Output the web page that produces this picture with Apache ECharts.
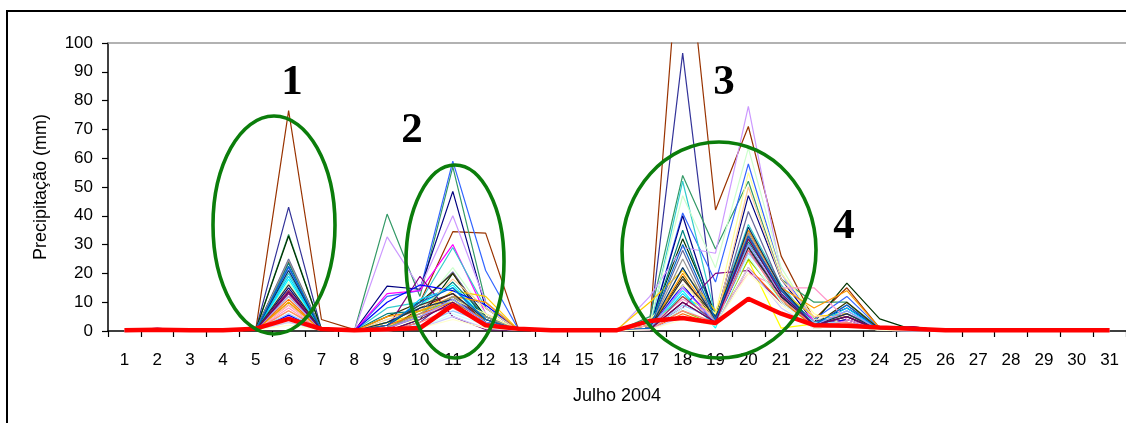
<!DOCTYPE html>
<html>
<head>
<meta charset="utf-8">
<title>Precipitação diária - Julho 2004</title>
<script src="https://cdn.jsdelivr.net/npm/echarts@6/dist/echarts.min.js"></script>
<style>
  html, body { margin: 0; padding: 0; background: #fff; }
  #chart { width: 1126px; height: 423px; }
</style>
</head>
<body>
<div id="chart"></div>
<script>
// Days of July 2004
const days = ['1','2','3','4','5','6','7','8','9','10','11','12','13','14','15','16','17','18','19','20','21','22','23','24','25','26','27','28','29','30','31'];

// Daily rainfall (mm) per rain gauge, days 1..31
const p01 = [0,0,0,0,0.5, 76.5,4,0.5,2,10, 34.5,34,0.5,0,0, 0,2,150,42,71, 26,4,15,1,1.5, 0,0,0,0,0,0];
const p02 = [0,0,0,0,0.5, 43,0.5,0,0,3, 12,3,0.3,0,0, 0,1,96.5,3,35, 15,2,6,1,0, 0,0,0,0,0,0];
const p03 = [0,0,0,0,0.5, 33.5,0.5,0,40.6,12, 57,10,0.5,0,0, 0,5,54,28.5,52, 18,10,10,1,0, 0,0,0,0,0,0];
const p04 = [0,0,0,0,0.5, 33,0.5,0,0,4, 20,5,0.3,0,0, 0,2,32,6,33, 14,3,16.6,4.2,0.5, 0,0,0,0,0,0];
const p05 = [0,0,0,0,0.5, 22,0.5,0,12,14, 59,21,0.5,0,0, 0,1,41,17,58, 20,4,12,1,0, 0,0,0,0,0,0];
const p06 = [0,0,0,0,0.3, 15,0.3,0,15.6,14.5, 48.5,8,0.3,0,0, 0,1,40,4,47, 18,3,8,1,0, 0,0,0,0,0,0];
const p07 = [0,0,0,0,0.3, 5,0.3,0,32.7,15, 40,10,0.5,0,0, 0,12,29,27,78, 20,3,5,0.5,0, 0,0,0,0,0,0];
const p08 = [0,0,0,0,0.3, 9,0.3,0,13,14, 30,6,0.3,0,0, 0,1,15,4,30, 12,4,3,0.5,0, 0,0,0,0,0,0];
const p09 = [0,0,0,0,0.5, 20,0.5,0,8,10, 29,8,0.3,0,0, 0,1,52,5,37, 16,2,7,0.5,0, 0,0,0,0,0,0];
const p10 = [0,0,0,0,0.3, 17,0.3,0,4,8, 22,6,0.3,0,0, 0,3,47,22,63.5, 22,4,5,0.5,0, 0,0,0,0,0,0];
const p11 = [0,0,0,0,0.5, 25,0.5,0,3,9, 20.5,4,0.3,0,0, 0,1,28,3,41.5, 15,2,9,0.5,0, 0,0,0,0,0,0];
const p12 = [0,0,0,0,0.5, 24,0.5,0,5,10, 20,3,0.3,0,0, 0,1,19,3,30, 12,2,10,0.5,0, 0,0,0,0,0,0];
const p13 = [0,0,0,0,0.3, 12,0.5,0,3,6, 14,12,0.3,0,0, 0.5,10,21,7,32, 14,5,6,0.5,0, 0,0,0,0,0,0];
const p14 = [0,0,0,0,0.3, 7,1,0,3,5, 12,5,0.3,0,0, 0,2,12,6,24.5, 1,2.5,3,0.5,0, 0,0,0,0,0,0];
const p15 = [0,0,0,0,0.3, 18,0.3,0,2,9, 16,4,0.3,0,0, 0,1,14,1,30, 10,2,5,0.3,0, 0,0,0,0,0,0];
const p16 = [0,1,0,0,0.3, 13,0.3,0,1,19, 5,0.5,0.3,0,0, 0,1,8,20,21, 10,2,3,0.5,1.5, 0,0,0,0,0,0];
const p17 = [0,0,0,0,0.3, 14,0.3,0,0,8, 13,3,0.3,0,0, 0,0.5,10,3,29, 12,2,4,0.3,0, 0,0,0,0,0,0];
const p18 = [0,0,0,0,0.5, 23.5,0.5,0,6,7, 17,5,0.3,0,0, 0,1,35,4,31, 14,3,6,0.5,0, 0,0,0,0,0,0];
const p19 = [0,0,0,0,0.3, 5.5,0.3,0,10,16, 14,9,0.3,0,0, 0,1,16,2,28, 12,2,4,0.3,0, 0,0,0,0,0,0];
const p20 = [0,0,0,0,0.3, 19,0.3,0,1,11, 15,3,0.3,0,0, 0,0.5,13,2,33, 13,2,8,0.3,0, 0,0,0,0,0,0];
const p21 = [0,0,0,0,0.3, 3,0.3,0,2,4, 11,6,0.3,0,0, 0,4,16,6,55, 20,6,2,0.3,0, 0,0,0,0,0,0];
const p22 = [0,0,0,0,0.3, 6,0.3,0,0.5,2, 7,3,0.3,0,0, 0,0.5,9,4,27, 13,3,3,0.3,0, 0,0,0,0,0,0];
const p23 = [0,0,0,0,0.3, 8,0.3,0,2,6, 9,4,0.3,0,0, 0,2,11,5,20, 15,15,4,0.3,0, 0,0,0,0,0,0];
const p24 = [0,0,0,0,0.3, 9,0.3,0,4,7, 18,8,0.3,0,0, 0,1,18,3,50, 18,5,5,0.3,0, 0,0,0,0,0,0];
const p25 = [0,0,0,0,0.3, 10,0.3,0,1,7, 10,4,0.3,0,0, 0,1,7,2,25, 11,1,2,0.3,0, 0,0,0,0,0,0];
const p26 = [0,0,0,0,0.3, 10,0.3,0,5,7, 12,10,0.3,0,0, 0,1,20,4,35, 15,8,14,1,0, 0,0,0,0,0,0];
const p27 = [0,0,0,0,0.3, 11,0.3,0,2,6, 10,4,0.3,0,0, 0,0.5,6,2,22, 10,2,6,0.3,0, 0,0,0,0,0,0];
const p28 = [0,0,0,0,0.3, 24.5,0.3,0,1,6, 12,5,0.3,0,0, 0,1,25,3,34, 14,2,5,0.3,0, 0,0,0,0,0,0];
const p29 = [0,0,0,0,0.3, 21,0.3,0,3,8, 11,3,0.3,0,0, 0,1,22,4,36, 15,2,6,0.3,0, 0,0,0,0,0,0];
const p30 = [0,0,0,0,0.3, 14,0.3,0,1,5, 9,2,0.3,0,0, 0,0.5,12,3,33, 14,2,5,0.3,0, 0,0,0,0,0,0];
const p31 = [0,0,0,0,0.3, 16,0.3,0,2,9, 13,4,0.3,0,0, 0,1,18,5,29, 12,2,5,0.3,0, 0,0,0,0,0,0];
const p32 = [0,0,0,0,0.3, 4,0.3,0,0,1, 6,2,0.3,0,0, 0,0.5,8,2,26, 10,1,2,0.3,0, 0,0,0,0,0,0];
const p33 = [0,0,0,0,0.3, 12,0.3,0,1,5, 11,3,0.3,0,0, 0,1,15,3,30, 13,2,7,0.3,0, 0,0,0,0,0,0];
const p34 = [0,0,0,0,0.3, 7,0.3,0,0,3, 8,2,0.3,0,0, 0,0.5,7,3,28, 11,2,3,0.3,0, 0,0,0,0,0,0];
const p35 = [0,0,0,0,0.3, 22.5,0.3,0,2,10, 15,4,0.3,0,0, 0,1,30,4,33, 14,2,9,0.3,0, 0,0,0,0,0,0];
const p36 = [0,0,0,0,0.3, 13.5,0.3,0,0,4, 10,2,0.3,0,0, 0,0.5,10,3,32, 13,2,5,0.3,0, 0,0,0,0,0,0];
const p37 = [0,0,0,0,0.3, 3,0.3,0,0,1, 5,1,0.3,0,0, 0,0.5,5,2,22, 8,1,2,0.3,0, 0,0,0,0,0,0];
const p38 = [0,0,0,0,0.3, 2,0.3,0,0,1, 4,1,0.3,0,0, 0,0.5,4,2,20, 9,1,2,0.3,0, 0,0,0,0,0,0];

// Areal mean over all gauges
const media = [0.3,0.4,0.3,0.3,0.8, 4.2,0.7,0.3,0.6,1.0, 9,2,0.8,0.3,0.3, 0.3,3.5,4.5,2.8,11.2, 6,2,1.8,1.2,0.8, 0.3,0.3,0.3,0.3,0.3,0.3];

// Y axis range (mm)
const yMin = 0, yMax = 100, yStep = 10;

// Rain events marked on the chart
const eventLabels = ['1', '2', '3', '4'];

const gauges = [p01,p02,p03,p04,p05,p06,p07,p08,p09,p10,p11,p12,p13,p14,p15,p16,p17,p18,p19,p20,
                p21,p22,p23,p24,p25,p26,p27,p28,p29,p30,p31,p32,p33,p34,p35,p36,p37,p38];

const gaugeColors = ['#993300','#333399','#339966','#003300','#3366FF','#000080','#CC99FF','#FF00FF',
  '#33CCCC','#CCFFCC','#666699','#333300','#FFCC00','#FFFF00','#00FFFF','#800080','#800000','#008080',
  '#0000FF','#00CCFF','#FFFF99','#99CCFF','#FF99CC','#FFCC99','#99CC00','#FF9900','#FF6600','#969696',
  '#003366','#993366','#333333','#CCFFFF','#9999FF','#FF8080','#0066CC','#660066','#CCCCFF','#FFFFCC'];

const FONT = '"Liberation Sans", Arial, sans-serif';

const series = gauges.map((vals, i) => ({
  name: 'Posto ' + String(i + 1).padStart(2, '0'),
  type: 'line',
  data: vals,
  symbol: 'none',
  clip: true,
  lineStyle: { width: 1.2, color: gaugeColors[i] },
  itemStyle: { color: gaugeColors[i] },
  z: 2
}));
series.push({
  name: 'Média',
  type: 'line',
  data: media,
  symbol: 'none',
  lineStyle: { width: 4.5, color: '#FF0000' },
  itemStyle: { color: '#FF0000' },
  z: 3
});

const chart = echarts.init(document.getElementById('chart'), null, { renderer: 'canvas' });

const green = '#0B7D0B';
const ring = (cx, cy, rx, ry) => ({
  type: 'ellipse', z: 100,
  shape: { cx, cy, rx, ry },
  style: { fill: 'none', stroke: green, lineWidth: 3.6 }
});
const tag = (text, x, y) => ({
  type: 'text', z: 101, x, y,
  style: { text, fill: '#000', font: 'bold 43px "Liberation Serif", "Times New Roman", serif', align: 'center', verticalAlign: 'middle' }
});

chart.setOption({
  animation: false,
  backgroundColor: '#fff',
  grid: { left: 108, top: 43, right: -1, bottom: 92, containLabel: false },
  xAxis: [{
    type: 'category',
    data: days,
    boundaryGap: true,
    name: 'Julho 2004',
    nameLocation: 'middle',
    nameGap: 56,
    nameTextStyle: { fontFamily: FONT, fontSize: 18, color: '#000' },
    axisLine: { lineStyle: { color: '#000', width: 1.5 } },
    axisTick: { show: true, length: 6, lineStyle: { color: '#000', width: 1.2 } },
    axisLabel: { fontFamily: FONT, fontSize: 17, color: '#000', margin: 21, interval: 0 },
    splitLine: { show: false }
  }, {
    type: 'category',
    data: days,
    position: 'top',
    axisLine: { lineStyle: { color: '#999', width: 1.6 } },
    axisTick: { show: false },
    axisLabel: { show: false },
    splitLine: { show: false }
  }],
  yAxis: {
    type: 'value',
    min: yMin, max: yMax, interval: yStep,
    name: 'Precipitação (mm)',
    nameLocation: 'middle',
    nameGap: 58,
    nameRotate: 90,
    nameTextStyle: { fontFamily: FONT, fontSize: 18, color: '#000' },
    axisLine: { show: true, lineStyle: { color: '#000', width: 1.5 } },
    axisTick: { show: true, length: 6, lineStyle: { color: '#000', width: 1.2 } },
    axisLabel: { fontFamily: FONT, fontSize: 17, color: '#000', margin: 15 },
    splitLine: { show: false }
  },
  series,
  graphic: [
    { type: 'rect', z: 0, silent: true,
      shape: { x: 7, y: 11, width: 1300, height: 600 },
      style: { fill: 'none', stroke: '#000', lineWidth: 2 } },
    ring(274, 225, 61, 109),
    ring(455, 261.5, 49, 96.5),
    ring(719, 250, 97, 108),
    tag(eventLabels[0], 292, 83),
    tag(eventLabels[1], 412, 131),
    tag(eventLabels[2], 724, 83),
    tag(eventLabels[3], 844, 227)
  ]
});
</script>
</body>
</html>
